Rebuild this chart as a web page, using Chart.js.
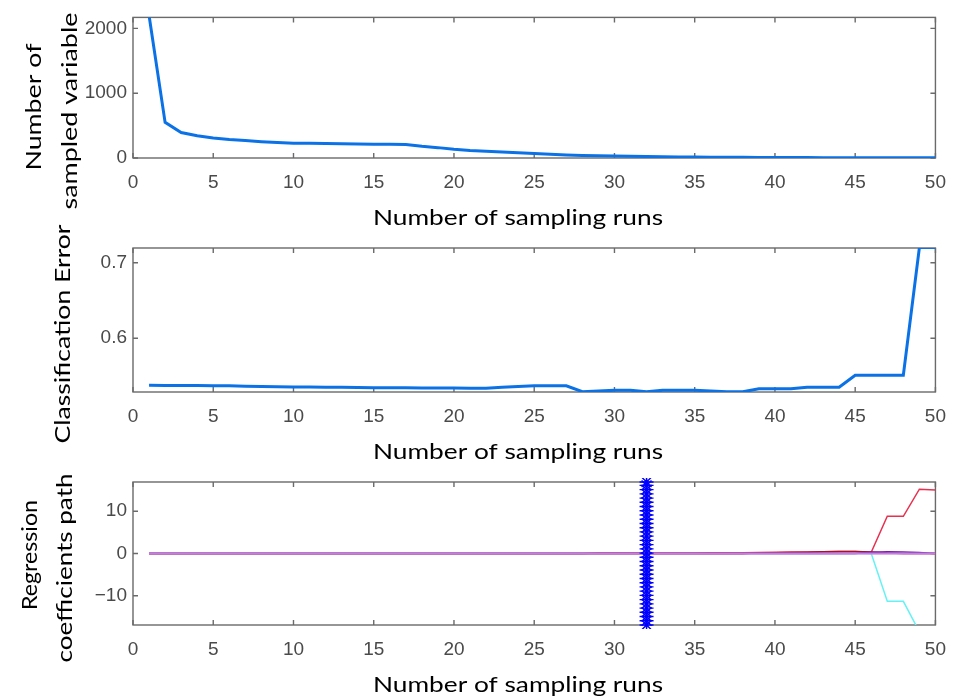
<!DOCTYPE html>
<html>
<head>
<meta charset="utf-8">
<script src="https://cdn.jsdelivr.net/npm/chart.js@4.4.1/dist/chart.umd.min.js"></script>
<style>
body{margin:0;background:#fff;width:959px;height:698px;overflow:hidden;position:relative}
canvas{position:absolute;left:0;top:0}
</style>
</head>
<body>
<canvas id="c1" width="959" height="698"></canvas>
<canvas id="c2" width="959" height="698"></canvas>
<canvas id="c3" width="959" height="698"></canvas>
<script>
// sampling runs (x axis of all three panels)
var runs = [1,2,3,4,5,6,7,8,9,10,11,12,13,14,15,16,17,18,19,20,21,22,23,24,25,
            26,27,28,29,30,31,32,33,34,35,36,37,38,39,40,41,42,43,44,45,46,47,48,49,50];
var xTicks = [0,5,10,15,20,25,30,35,40,45,50];

// panel 1 - number of sampled variables
var sampledVars = [2200,550,393,343,309,284,269,252,240,229,226,222,219,216,213,211,209,180,160,134,
                   115,104,92,80,70,58,48,40,34,30,26,23,20,17,15,13,11,10,9,8,
                   7,6,5,5,4,4,3,3,2,2];
var yTicks1 = [0,1000,2000];

// panel 2 - classification error
var classErr = [0.5376,0.5375,0.5374,0.5373,0.5372,0.5370,0.5365,0.5360,0.5358,0.5355,
                0.5353,0.5352,0.5350,0.5348,0.5345,0.5345,0.5343,0.5340,0.5340,0.5340,
                0.5338,0.5338,0.5350,0.5360,0.5370,0.5370,0.5370,0.5292,0.5300,0.5310,
                0.5310,0.5292,0.5310,0.5310,0.5312,0.5300,0.5292,0.5292,0.5330,0.5330,
                0.5330,0.5350,0.5350,0.5350,0.5510,0.5510,0.5510,0.5510,0.7200,0.7200];
var yTicks2 = [0.6,0.7];

// panel 3 - regression coefficient paths
var coefViolet = [0,0,0,0,0,0,0,0,0,0,0,0,0,0,0,0,0,0,0,0,0,0,0,0,0,
                  0,0,0,0,0,0,0,0,0,0,0,0,0,0,0,0,0,0,0,0,0,0,0,0,0];
var coefRed = [0,0,0,0,0,0,0,0,0,0,0,0,0,0,0,0,0,0,0,0,0,0,0,0,0,
               0,0,0,0.1,0.1,0.1,0.1,0.1,0.1,0.1,0.15,0.15,0.2,0.25,0.3,0.35,0.35,0.4,0.45,0.45,0.3,8.8,8.8,15.2,15.0];
var coefCyan = [0,0,0,0,0,0,0,0,0,0,0,0,0,0,0,0,0,0,0,0,0,0,0,0,0,
                0,0,0,0,0,0,0,0,0,0,0,0,0,0,0,0,0,0,0,0,0,-11.3,-11.3,-18.5,-24];
var coefPurple = [0,0,0,0,0,0,0,0,0,0,0,0,0,0,0,0,0,0,0,0,0,0,0,0,0,
                  0,0,0,0,0,0,0,0,0,0,0,0,0,0,0,0,0,0,0,0,0.3,0.4,0.35,0.25,0];
var coefMaroon = [0,0,0,0,0,0,0,0,0,0,0,0,0,0,0,0,0,0,0,0,0,0,0,0,0,
                  0,0,0,0,0,0,0,0,0,0,0,0,0,0.1,0.2,0.25,0.3,0.4,0.45,0.5,0.35,0.1,0,0,0];
var coefOrange = [0,0,0,0,0,0,0,0,0,0,0,0,0,0,0,0,0,0,0,0,0,0,0,0,0,
                  0,0,0,0,0,0,0,0,0,0,0,0,0,0.15,0.2,0.2,0.2,0.15,0.1,0.05,0,0,0,0,0];
// optimal run marked by a column of stars
var optimalRun = 32;
var starY = [-16.9,-15.9,-14.9,-13.9,-12.9,-11.9,-10.9,-9.9,-8.9,-7.9,-6.9,-5.9,-4.9,-3.9,-2.9,-1.9,-0.9,
             0.1,1.1,2.1,3.1,4.1,5.1,6.1,7.1,8.1,9.1,10.1,11.1,12.1,13.1,14.1,15.1,16.1,16.9];
var yTicks3 = [-10,0,10];

var frameColor = '#6a6a6a';
var tickColor = '#4a4a4a';
var tickFont = {family: 'Liberation Sans', size: 19};
var titleFont = '22px Lato';

function pts(ys){
    return ys.map(function(y,i){ return {x: runs[i], y: y}; });
}

// MATLAB style box with inward ticks + axis titles
var matFrame = {
    id: 'matFrame',
    beforeDatasetsDraw: function(chart){
        var ctx = chart.ctx, a = chart.chartArea, sx = chart.scales.x, sy = chart.scales.y;
        ctx.save();
        ctx.strokeStyle = frameColor;
        ctx.lineWidth = 1.4;
        ctx.strokeRect(a.left, a.top, a.right - a.left, a.bottom - a.top);
        ctx.beginPath();
        sx.ticks.forEach(function(t){
            var px = sx.getPixelForValue(t.value);
            ctx.moveTo(px, a.bottom); ctx.lineTo(px, a.bottom - 5);
            ctx.moveTo(px, a.top); ctx.lineTo(px, a.top + 5);
        });
        sy.ticks.forEach(function(t){
            var py = sy.getPixelForValue(t.value);
            ctx.moveTo(a.left, py); ctx.lineTo(a.left + 5, py);
            ctx.moveTo(a.right, py); ctx.lineTo(a.right - 5, py);
        });
        ctx.stroke();
        ctx.restore();
    },
    afterDraw: function(chart, args, opts){
        var ctx = chart.ctx;
        (opts.titles || []).forEach(function(t){
            ctx.save();
            ctx.font = titleFont;
            ctx.fillStyle = '#000';
            ctx.textAlign = 'center';
            ctx.textBaseline = 'alphabetic';
            ctx.translate(t.x, t.y);
            if (t.rot) ctx.rotate(-Math.PI/2);
            var m = ctx.measureText(t.text).width;
            ctx.scale(t.w / m, 1);
            ctx.fillText(t.text, 0, 0);
            ctx.restore();
        });
    }
};

// every canvas covers the whole page; plot box placed by padding + fixed axis sizes
function makeOpts(cfg){
    return {
        responsive: false,
        animation: false,
        layout: {padding: {top: cfg.top, right: 20, left: 0, bottom: 0}},
        plugins: {
            legend: {display: false},
            tooltip: {enabled: false},
            matFrame: {titles: cfg.titles}
        },
        scales: {
            x: {
                type: 'linear', min: 0, max: 50,
                grid: {display: false, drawTicks: false}, border: {display: false},
                afterBuildTicks: function(s){ s.ticks = xTicks.map(function(v){ return {value: v}; }); },
                ticks: {color: tickColor, font: tickFont, padding: 13, maxRotation: 0},
                afterFit: function(s){ s.height = 698 - cfg.bottom; }
            },
            y: {
                type: 'linear', min: cfg.ymin, max: cfg.ymax,
                grid: {display: false, drawTicks: false}, border: {display: false},
                afterBuildTicks: function(s){ s.ticks = cfg.yticks.map(function(v){ return {value: v}; }); },
                ticks: {color: tickColor, font: tickFont, padding: 6,
                        callback: function(v){ return String(v).replace('-', '\u2212'); }},
                afterFit: function(s){ s.width = 133; }
            }
        }
    };
}

new Chart(document.getElementById('c1'), {
    type: 'line',
    data: {datasets: [{
        data: pts(sampledVars), borderColor: '#0a72e6', borderWidth: 3,
        pointRadius: 0, tension: 0, clip: 0
    }]},
    options: makeOpts({top: 13, bottom: 158, ymin: 0, ymax: 2170, yticks: yTicks1,
        titles: [
            {text: 'Number of sampling runs', x: 518, y: 225, w: 290},
            {text: 'Number of', x: 41, y: 107, w: 127, rot: true},
            {text: 'sampled variable', x: 77, y: 111, w: 197, rot: true}
        ]}),
    plugins: [matFrame]
});

new Chart(document.getElementById('c2'), {
    type: 'line',
    data: {datasets: [{
        data: pts(classErr), borderColor: '#0a72e6', borderWidth: 3,
        pointRadius: 0, tension: 0, clip: 0
    }]},
    options: makeOpts({top: 248, bottom: 392, ymin: 0.5288, ymax: 0.7195, yticks: yTicks2,
        titles: [
            {text: 'Number of sampling runs', x: 518, y: 459, w: 290},
            {text: 'Classification Error', x: 70, y: 334, w: 219, rot: true}
        ]}),
    plugins: [matFrame]
});

var lineDs = function(ys, color, w){
    return {type: 'line', data: pts(ys), borderColor: color, borderWidth: w || 1.5,
            pointRadius: 0, tension: 0, clip: 0};
};

new Chart(document.getElementById('c3'), {
    type: 'line',
    data: {datasets: [
        {data: starY.map(function(y){ return {x: optimalRun, y: y}; }), showLine: false,
         pointStyle: 'star', pointRadius: 7, borderColor: '#0000ff', backgroundColor: '#0000ff',
         borderWidth: 1.4, clip: 4},
        lineDs(coefViolet, '#c07fe6', 2),
        lineDs(coefPurple, '#7a1fa0'),
        lineDs(coefMaroon, '#a8102c'),
        lineDs(coefRed, '#e8304f'),
        lineDs(coefOrange, '#f0b070'),
        lineDs(coefCyan, '#66f2f5')
    ]},
    options: makeOpts({top: 482, bottom: 625, ymin: -16.9, ymax: 16.9, yticks: yTicks3,
        titles: [
            {text: 'Number of sampling runs', x: 518, y: 692, w: 290},
            {text: 'Regression', x: 37, y: 555, w: 110, rot: true},
            {text: 'coefficients path', x: 72, y: 568, w: 189, rot: true}
        ]}),
    plugins: [matFrame]
});
</script>
</body>
</html>
